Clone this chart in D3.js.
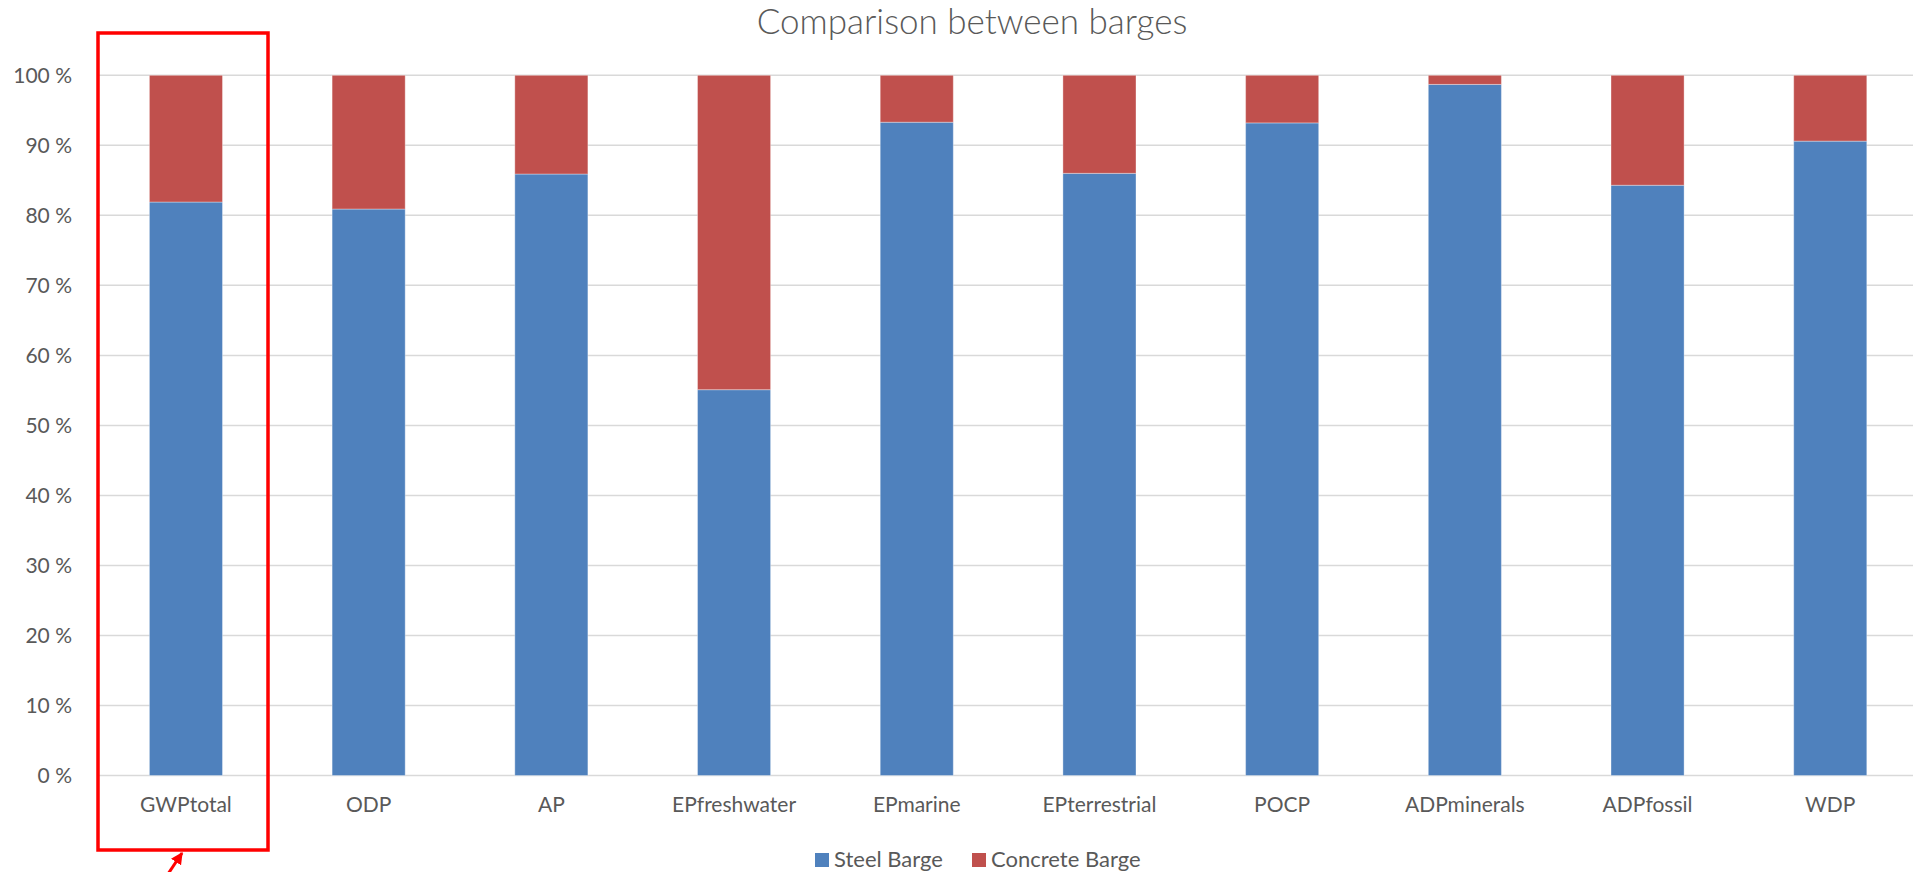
<!DOCTYPE html>
<html>
<head>
<meta charset="utf-8">
<script src="https://cdn.jsdelivr.net/npm/d3@7"></script>
<style>
  html, body { margin: 0; padding: 0; background: #fff; }
  svg { display: block; }
  text { font-family: Lato, "Open Sans", sans-serif; fill: #595959; }
</style>
</head>
<body>
<svg id="chart" width="1913" height="872"></svg>
<script>
const categories = ["GWPtotal", "ODP", "AP", "EPfreshwater", "EPmarine", "EPterrestrial", "POCP", "ADPminerals", "ADPfossil", "WDP"];
const steelValues = [81.9, 80.9, 85.9, 55.1, 93.3, 86.0, 93.2, 98.7, 84.3, 90.6];
const concreteValues = [18.1, 19.1, 14.1, 44.9, 6.7, 14.0, 6.8, 1.3, 15.7, 9.4];
const seriesNames = ["Steel Barge", "Concrete Barge"];
const seriesColors = ["#4F81BD", "#C0504D"];
const yTicks = [0, 10, 20, 30, 40, 50, 60, 70, 80, 90, 100];
const title = "Comparison between barges";

const svg = d3.select("#chart");

const plotLeft = 99, plotRight = 1913;
const x = d3.scaleBand().domain(categories).range([94.6, 1921.6]).paddingInner(0.6).paddingOuter(0.3);
const y = d3.scaleLinear().domain([0, 100]).range([775.5, 75.3]);

// gridlines
svg.append("g").selectAll("line").data(yTicks).join("line")
  .attr("x1", plotLeft).attr("x2", plotRight)
  .attr("y1", d => y(d)).attr("y2", d => y(d))
  .attr("stroke", "#D9D9D9").attr("stroke-width", 1.5);

// y axis labels
const yAxis = d3.axisLeft(y).tickValues(yTicks).tickFormat(d => d + " %").tickSize(0).tickPadding(0);
const yg = svg.append("g").attr("transform", "translate(72,0)").call(yAxis);
yg.select(".domain").remove();
yg.selectAll("text").attr("font-size", 21).attr("fill", "#595959")
  .style("font-family", "Lato, 'Open Sans', sans-serif");

// stacked data
const rows = categories.map((c, i) => ({ cat: c, steel: steelValues[i], concrete: concreteValues[i] }));
const stack = d3.stack().keys(["steel", "concrete"]);
const stacked = stack(rows);

svg.append("g").selectAll("g").data(stacked).join("g")
  .attr("fill", (d, i) => seriesColors[i])
  .selectAll("rect").data(d => d).join("rect")
  .attr("x", d => x(d.data.cat))
  .attr("width", x.bandwidth())
  .attr("y", d => y(d[1]))
  .attr("height", d => y(d[0]) - y(d[1]))
  .attr("stroke", "rgba(255,255,255,0.35)").attr("stroke-width", 1);

// x axis labels
const xAxis = d3.axisBottom(x).tickSize(0).tickPadding(0);
const xg = svg.append("g").attr("transform", "translate(0,797)").call(xAxis);
xg.select(".domain").remove();
xg.selectAll("text").attr("font-size", 21).attr("fill", "#595959")
  .style("font-family", "Lato, 'Open Sans', sans-serif");

// title
svg.append("text").attr("x", 972).attr("y", 34).attr("text-anchor", "middle")
  .attr("font-size", 35).attr("font-weight", 300).text(title);

// legend
const legendItems = [{ name: seriesNames[0], color: seriesColors[0], x: 815 }, { name: seriesNames[1], color: seriesColors[1], x: 972 }];
const lg = svg.append("g");
legendItems.forEach(it => {
  lg.append("rect").attr("x", it.x).attr("y", 853).attr("width", 14).attr("height", 14).attr("fill", it.color);
  lg.append("text").attr("x", it.x + 19).attr("y", 867).attr("font-size", 22).text(it.name);
});

// red annotation box and arrow
svg.append("rect").attr("x", 98).attr("y", 33).attr("width", 170).attr("height", 817)
  .attr("fill", "none").attr("stroke", "#FF0000").attr("stroke-width", 3.5);
svg.append("defs").append("marker").attr("id", "ah").attr("viewBox", "0 0 10 10")
  .attr("refX", 9).attr("refY", 5).attr("markerWidth", 4).attr("markerHeight", 4).attr("orient", "auto")
  .append("path").attr("d", "M0,0 L10,5 L0,10 z").attr("fill", "#FF0000");
svg.append("line").attr("x1", 168).attr("y1", 874).attr("x2", 182).attr("y2", 853)
  .attr("stroke", "#FF0000").attr("stroke-width", 3).attr("marker-end", "url(#ah)");
</script>
</body>
</html>
